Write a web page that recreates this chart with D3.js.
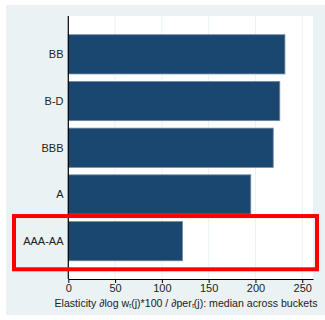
<!DOCTYPE html>
<html>
<head>
<meta charset="utf-8">
<script src="https://cdn.jsdelivr.net/npm/d3@7"></script>
<style>
  html, body { margin: 0; padding: 0; background: #ffffff; }
  svg { display: block; }
  text { font-family: "Liberation Sans", Arial, Helvetica, sans-serif; fill: #222222; }
</style>
</head>
<body>
<svg id="chart" width="325" height="320"></svg>
<script>
// Rating buckets, top to bottom
const categories = ["BB", "B-D", "BBB", "A", "AAA-AA"];
// Median elasticity across buckets
const values = [231.5, 226, 219, 195, 122];
// Horizontal axis ticks
const tickValues = [0, 50, 100, 150, 200, 250];
const axisTitle = "Elasticity \u2202log w\u209C(j)*100 / \u2202per\u209C(j): median across buckets";
const highlighted = "AAA-AA";

const svg = d3.select("#chart");
const W = 325, H = 320;
const plot = { left: 68.3, right: 313, top: 16, bottom: 279 };

// Outer graph region
svg.append("rect")
  .attr("x", 6).attr("y", 5)
  .attr("width", W - 6).attr("height", 310)
  .attr("fill", "#eaf2f3");

// Plot region
svg.append("rect")
  .attr("x", plot.left).attr("y", plot.top)
  .attr("width", plot.right - plot.left).attr("height", plot.bottom - plot.top)
  .attr("fill", "#ffffff");

const x = d3.scaleLinear().domain([0, 261.5]).range([plot.left, plot.right]);
const y = d3.scaleBand().domain(categories)
  .range([plot.top + 0.5, plot.bottom])
  .paddingInner(0.16).paddingOuter(0.39);

// Vertical grid lines
svg.append("g").selectAll("line")
  .data(tickValues.filter(d => d > 0))
  .join("line")
  .attr("x1", d => x(d)).attr("x2", d => x(d))
  .attr("y1", plot.top).attr("y2", plot.bottom)
  .attr("stroke", "#eaf2f3").attr("stroke-width", 1);

// Bars
svg.append("g").selectAll("rect")
  .data(categories.map((c, i) => ({ c, v: values[i] })))
  .join("rect")
  .attr("x", x(0))
  .attr("y", d => y(d.c))
  .attr("width", d => x(d.v) - x(0))
  .attr("height", y.bandwidth())
  .attr("fill", "#1a476f")
  .attr("stroke", "#6f8ba6")
  .attr("stroke-width", 0.8);

// Category labels
svg.append("g").selectAll("text")
  .data(categories)
  .join("text")
  .attr("x", 63.5)
  .attr("y", d => y(d) + y.bandwidth() / 2)
  .attr("dy", "0.35em")
  .attr("text-anchor", "end")
  .attr("font-size", 11)
  .text(d => d);

// Left axis line
svg.append("line")
  .attr("x1", plot.left).attr("x2", plot.left)
  .attr("y1", plot.top).attr("y2", plot.bottom)
  .attr("stroke", "#000").attr("stroke-width", 1.2);

// Bottom axis
const xAxis = d3.axisBottom(x).tickValues(tickValues).tickSize(4).tickPadding(1.5).tickSizeOuter(0);
const gx = svg.append("g")
  .attr("transform", `translate(0,${plot.bottom})`)
  .call(xAxis);
gx.select(".domain").attr("stroke", "#000").attr("stroke-width", 1.1);
gx.selectAll(".tick line").attr("stroke", "#000");
gx.selectAll(".tick text")
  .attr("font-size", 11)
  .attr("font-family", "Liberation Sans, Arial, Helvetica, sans-serif")
  .attr("fill", "#222222");

// Axis title
svg.append("text")
  .attr("x", 54.5).attr("y", 307)
  .attr("font-size", 10.6)
  .text(axisTitle);

// Highlight box round the top-rated bucket
const hb = y(highlighted);
svg.append("rect")
  .attr("x", 14).attr("y", hb - 5.5)
  .attr("width", 303).attr("height", y.bandwidth() + 14)
  .attr("fill", "none")
  .attr("stroke", "#ff0000")
  .attr("stroke-width", 4);
</script>
</body>
</html>
